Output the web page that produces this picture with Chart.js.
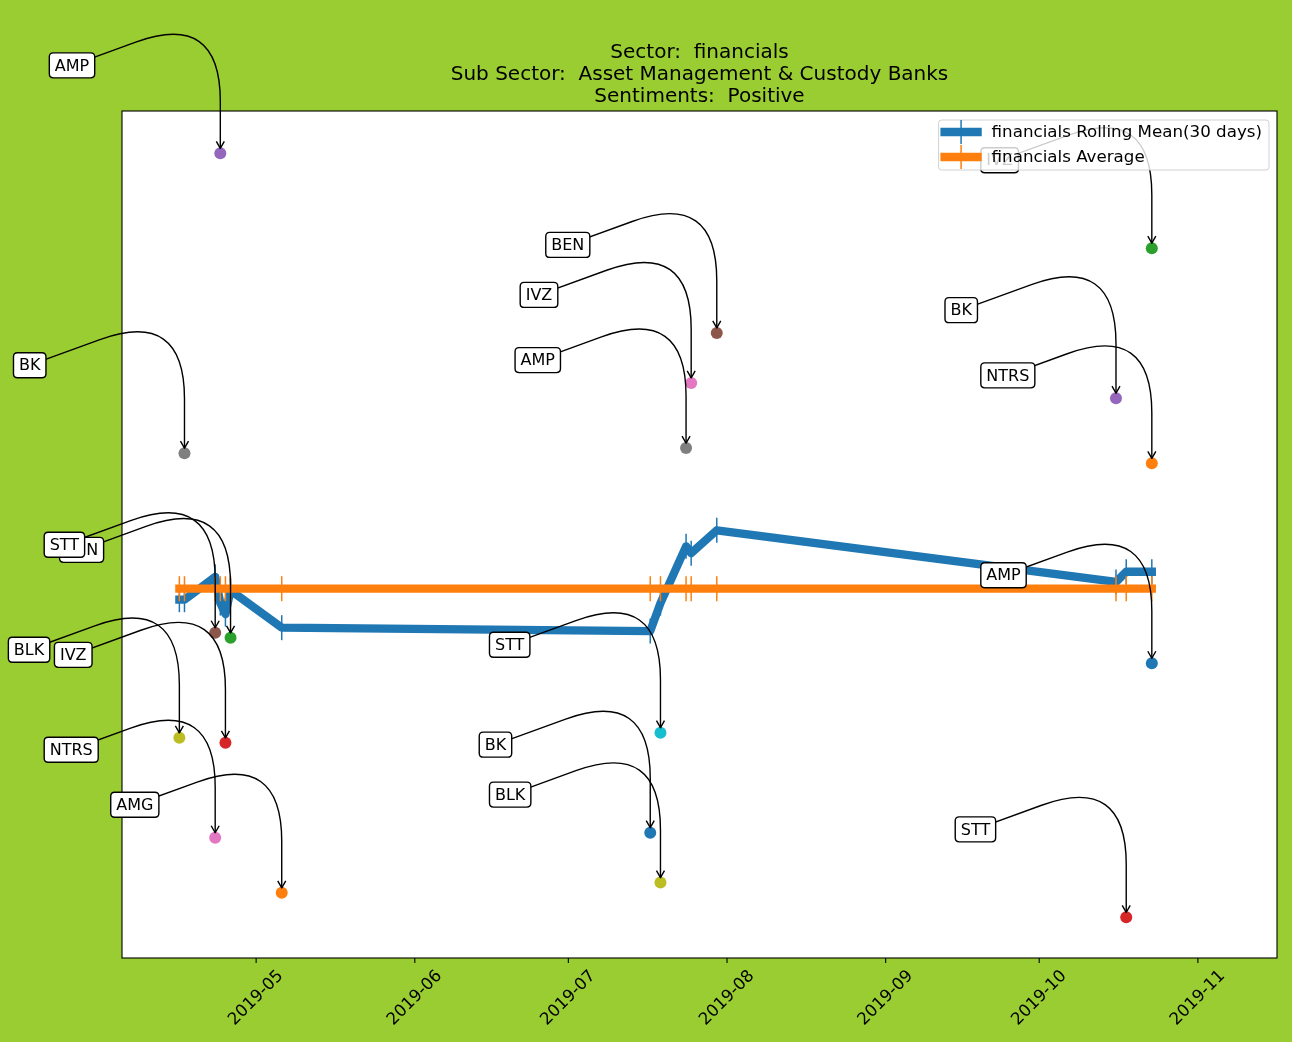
<!DOCTYPE html>
<html><head><meta charset="utf-8">
<script src="https://cdn.jsdelivr.net/npm/chart.js@4.4.0/dist/chart.umd.min.js"></script>
<style>html,body{margin:0;padding:0;background:#9acd32;}canvas{display:block;}</style>
</head><body>
<canvas id="c" width="1292" height="1042"></canvas>
<script>
// ---------- data ----------
const titleLines = ['Sector:  financials', 'Sub Sector:  Asset Management & Custody Banks', 'Sentiments:  Positive'];
const seriesNames = ['financials Rolling Mean(30 days)', 'financials Average'];
const monthTicks = ['2019-05-01','2019-06-01','2019-07-01','2019-08-01','2019-09-01','2019-10-01','2019-11-01'];
const monthLabels = ['2019-05','2019-06','2019-07','2019-08','2019-09','2019-10','2019-11'];
const xRange = ['2019-04-04T19:00:00Z', '2019-11-16T11:00:00Z'];

const rollingDates = ['2019-04-16','2019-04-17','2019-04-23','2019-04-24','2019-04-25','2019-04-26','2019-05-06',
  '2019-07-17','2019-07-19','2019-07-24','2019-07-25','2019-07-30','2019-10-16','2019-10-18','2019-10-23'];
const rollingMean = [0.423,0.423,0.450,0.419,0.406,0.434,0.390,0.386,0.419,0.486,0.478,0.505,0.444,0.456,0.456];
const averageValues = [0.436,0.436,0.436,0.436,0.436,0.436,0.436,0.436,0.436,0.436,0.436,0.436,0.436,0.436,0.436];

const pointTickers = ['BEN','IVZ','AMP','STT','NTRS','BK','BLK','AMG','BK','STT','BLK','AMP','IVZ','BEN','BK','STT','IVZ','NTRS','AMP'];
const pointDates = ['2019-04-26','2019-04-25','2019-04-24','2019-04-23','2019-04-23','2019-04-17','2019-04-16','2019-05-06',
  '2019-07-17','2019-07-19','2019-07-19','2019-07-24','2019-07-25','2019-07-30',
  '2019-10-16','2019-10-18','2019-10-23','2019-10-23','2019-10-23'];
const pointValues = [0.378,0.254,0.950,0.384,0.142,0.596,0.260,0.077,
  0.148,0.266,0.089,0.602,0.679,0.738,
  0.661,0.048,0.838,0.584,0.348];
const pointColors = ['#2ca02c','#d62728','#9467bd','#8c564b','#e377c2','#7f7f7f','#bcbd22','#ff7f0e',
  '#1f77b4','#17becf','#bcbd22','#7f7f7f','#e377c2','#8c564b',
  '#9467bd','#d62728','#2ca02c','#ff7f0e','#1f77b4'];

const BLUE = '#1f77b4', ORANGE = '#ff7f0e';
const FONT = '"DejaVu Sans", sans-serif';

function rrect(ctx, x, y, w, h, r) {
  ctx.beginPath();
  ctx.moveTo(x + r, y);
  ctx.lineTo(x + w - r, y); ctx.quadraticCurveTo(x + w, y, x + w, y + r);
  ctx.lineTo(x + w, y + h - r); ctx.quadraticCurveTo(x + w, y + h, x + w - r, y + h);
  ctx.lineTo(x + r, y + h); ctx.quadraticCurveTo(x, y + h, x, y + h - r);
  ctx.lineTo(x, y + r); ctx.quadraticCurveTo(x, y, x + r, y);
  ctx.closePath();
}

function drawAnnotation(ctx, px, py, text) {
  ctx.font = '16px ' + FONT;
  const tw = ctx.measureText(text).width;
  const bw = tw + 11, bh = 25;
  const bl = px - 171, cy = py - 88;
  const lx = bl + bw / 2;
  const ang = 20 * Math.PI / 180;
  const cornerY = cy - (px - lx) * Math.tan(ang);
  const tipY = py - 5;
  const rad = 90;
  const p1x = px - rad * Math.cos(ang), p1y = cornerY + rad * Math.sin(ang);
  const p2y = cornerY + rad;
  ctx.strokeStyle = '#000'; ctx.lineWidth = 1.4; ctx.lineJoin = 'round'; ctx.lineCap = 'butt';
  ctx.beginPath();
  ctx.moveTo(lx, cy); ctx.lineTo(p1x, p1y);
  ctx.quadraticCurveTo(px, cornerY, px, p2y);
  ctx.lineTo(px, tipY);
  ctx.stroke();
  ctx.beginPath();
  ctx.moveTo(px - 4, tipY - 7); ctx.lineTo(px, tipY); ctx.lineTo(px + 4, tipY - 7);
  ctx.stroke();
  rrect(ctx, bl, cy - bh / 2, bw, bh, 4);
  ctx.fillStyle = '#fff'; ctx.fill();
  ctx.lineWidth = 1.4; ctx.stroke();
  ctx.fillStyle = '#000'; ctx.textAlign = 'left'; ctx.textBaseline = 'middle';
  ctx.fillText(text, bl + 5.5, cy + 1);
}

const deco = {
  id: 'deco',
  beforeDraw(chart) {
    const { ctx, chartArea: a } = chart;
    ctx.save();
    ctx.fillStyle = '#9acd32'; ctx.fillRect(0, 0, chart.width, chart.height);
    ctx.fillStyle = '#ffffff'; ctx.fillRect(a.left, a.top, a.right - a.left, a.bottom - a.top);
    ctx.restore();
  },
  afterDraw(chart) {
    const { ctx, chartArea: a } = chart;
    const xs = chart.scales.x, ys = chart.scales.y;
    ctx.save();
    // frame
    ctx.strokeStyle = '#000'; ctx.lineWidth = 1.1;
    ctx.strokeRect(a.left, a.top, a.right - a.left, a.bottom - a.top);
    // x ticks + labels
    ctx.font = '16.7px ' + FONT; ctx.fillStyle = '#000';
    monthTicks.forEach((d, i) => {
      const x = xs.getPixelForValue(Date.parse(d));
      ctx.beginPath(); ctx.moveTo(x, a.bottom); ctx.lineTo(x, a.bottom + 4.9); ctx.stroke();
      const w = ctx.measureText(monthLabels[i]).width, h = 16;
      const cyl = a.bottom + 9.8 + (w + h) * 0.7071 / 2;
      ctx.save();
      ctx.translate(x, cyl); ctx.rotate(-Math.PI / 4);
      ctx.textAlign = 'center'; ctx.textBaseline = 'middle';
      ctx.fillText(monthLabels[i], 0, 0);
      ctx.restore();
    });
    // title
    ctx.font = '20px ' + FONT; ctx.textAlign = 'center'; ctx.textBaseline = 'alphabetic';
    const cx = (a.left + a.right) / 2;
    titleLines.forEach((t, i) => ctx.fillText(t, cx, a.top - 52.7 + i * 21.7));
    // annotations
    pointTickers.forEach((t, i) => {
      const px = xs.getPixelForValue(Date.parse(pointDates[i]));
      const py = ys.getPixelForValue(pointValues[i]);
      drawAnnotation(ctx, px, py, t);
    });
    // legend
    ctx.font = '16.7px ' + FONT;
    const tw = Math.max(...seriesNames.map(s => ctx.measureText(s).width));
    const lw = 53 + tw + 7, lh = 50;
    const lr = a.right - 8, lt = a.top + 9, ll = lr - lw;
    rrect(ctx, ll, lt, lw, lh, 3);
    ctx.fillStyle = 'rgba(255,255,255,0.8)'; ctx.fill();
    ctx.strokeStyle = 'rgba(204,204,204,0.9)'; ctx.lineWidth = 1; ctx.stroke();
    [BLUE, ORANGE].forEach((c, i) => {
      const y = lt + 12 + i * 25;
      ctx.strokeStyle = c; ctx.lineWidth = 8.3; ctx.lineCap = 'square';
      ctx.beginPath(); ctx.moveTo(ll + 6, y); ctx.lineTo(ll + 39, y); ctx.stroke();
      ctx.lineWidth = 1.5; ctx.lineCap = 'butt';
      ctx.beginPath(); ctx.moveTo(ll + 22.5, y - 12); ctx.lineTo(ll + 22.5, y + 12); ctx.stroke();
      ctx.fillStyle = '#000'; ctx.textAlign = 'left'; ctx.textBaseline = 'middle';
      ctx.fillText(seriesNames[i], ll + 53, y + 1);
    });
    ctx.restore();
  }
};

const lineStyle = (color) => ({
  type: 'line', borderColor: color, backgroundColor: color, borderWidth: 8.3,
  borderCapStyle: 'square', borderJoinStyle: 'round', tension: 0, fill: false,
  pointStyle: 'line', pointRotation: 90, pointRadius: 12.5, pointHoverRadius: 12.5,
  pointBorderColor: color, pointBorderWidth: 1.5, pointBackgroundColor: color
});

new Chart(document.getElementById('c'), {
  data: {
    datasets: [
      { type: 'scatter', label: 'points',
        data: pointDates.map((d, i) => ({ x: Date.parse(d), y: pointValues[i] })),
        pointBackgroundColor: pointColors, pointBorderColor: pointColors, pointBorderWidth: 0,
        pointRadius: 6, pointHoverRadius: 6, order: 0 },
      Object.assign(lineStyle(ORANGE), { label: seriesNames[1],
        data: rollingDates.map((d, i) => ({ x: Date.parse(d), y: averageValues[i] })), order: 1 }),
      Object.assign(lineStyle(BLUE), { label: seriesNames[0],
        data: rollingDates.map((d, i) => ({ x: Date.parse(d), y: rollingMean[i] })), order: 2 })
    ]
  },
  options: {
    responsive: false, animation: false, devicePixelRatio: 1, events: [],
    layout: { padding: { left: 122, top: 111, right: 15, bottom: 84 } },
    plugins: { legend: { display: false }, title: { display: false }, tooltip: { enabled: false } },
    scales: {
      x: { type: 'linear', display: false, min: Date.parse(xRange[0]), max: Date.parse(xRange[1]) },
      y: { type: 'linear', display: false, min: 0, max: 1 }
    }
  },
  plugins: [deco]
});
</script>
</body></html>
